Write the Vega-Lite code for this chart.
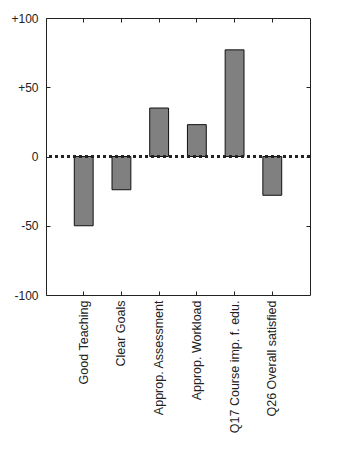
{
  "$schema": "https://vega.github.io/schema/vega-lite/v6.json",
  "width": 264,
  "height": 277,
  "autosize": "none",
  "padding": {"left": 46, "top": 18, "right": 44, "bottom": 177},
  "background": "white",
  "config": {
    "view": {"stroke": "#222", "strokeWidth": 1},
    "font": "Liberation Sans",
    "axis": {
      "domain": false,
      "grid": false,
      "tickColor": "#222",
      "tickWidth": 1,
      "labelColor": "#222",
      "labelFont": "Liberation Sans",
      "labelFontSize": 12,
      "title": null
    }
  },
  "data": {
    "values": [
      {"item": "Good Teaching", "value": -50},
      {"item": "Clear Goals", "value": -24},
      {"item": "Approp. Assessment", "value": 35},
      {"item": "Approp. Workload", "value": 23},
      {"item": "Q17 Course imp. f. edu.", "value": 77},
      {"item": "Q26 Overall satisfied", "value": -28}
    ]
  },
  "resolve": {"axis": {"x": "independent", "y": "independent"}},
  "layer": [
    {
      "mark": {"type": "bar", "fill": "#808080", "stroke": "#111", "strokeWidth": 1},
      "encoding": {
        "x": {
          "field": "item", "type": "nominal", "sort": null,
          "scale": {"paddingInner": 0.5, "paddingOuter": 0.75},
          "axis": {"orient": "bottom", "labelAngle": -90, "labelAlign": "right", "labelBaseline": "middle", "tickSize": -4, "labelPadding": 9, "labelFontSize": 12.5}
        },
        "y": {
          "field": "value", "type": "quantitative",
          "scale": {"domain": [-100, 100], "nice": false},
          "axis": {"orient": "left", "values": [-100, -50, 0, 50, 100], "labelExpr": "datum.value > 0 ? '+' + datum.value : (datum.value < 0 ? '-' + (-datum.value) : '0')", "tickSize": -4, "labelPadding": 12}
        }
      }
    },
    {
      "mark": {"type": "bar", "opacity": 0},
      "encoding": {
        "x": {
          "field": "item", "type": "nominal", "sort": null,
          "axis": {"orient": "top", "labels": false, "tickSize": -4}
        },
        "y": {
          "field": "value", "type": "quantitative",
          "axis": {"orient": "right", "labels": false, "values": [-50, 0, 50], "tickSize": -4}
        }
      }
    },
    {
      "mark": {"type": "rule", "stroke": "#222", "strokeWidth": 3, "strokeDash": [3, 3]},
      "encoding": {"y": {"datum": 0, "axis": null}}
    }
  ]
}
